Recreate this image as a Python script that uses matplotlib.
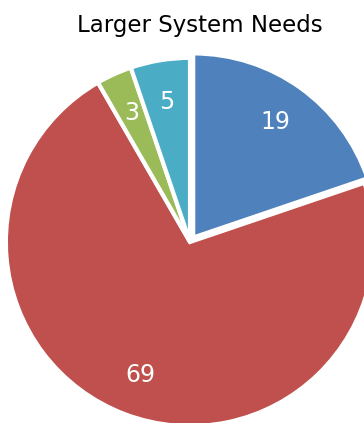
import matplotlib
matplotlib.use("Agg")
from matplotlib import pyplot as plt

# Wedge values, clockwise from 12 o'clock.
categories = ["A", "B", "C", "D"]
values = [19, 69, 3, 5]
colors = ["#4F81BD", "#C0504D", "#9BBB59", "#4BACC6"]
explode = [0.03, 0, 0, 0]

fig = plt.figure(figsize=(3.64, 4.23), dpi=100)
ax = fig.add_axes([0, 0, 1, 1])

wedges, texts, autotexts = ax.pie(
    values,
    colors=colors,
    explode=explode,
    startangle=90,
    counterclock=False,
    radius=1.012,
    autopct=lambda p: f"{round(p * sum(values) / 100):d}",
    pctdistance=0.77,
    wedgeprops=dict(edgecolor="white", linewidth=3),
    textprops=dict(color="white", fontsize=17),
)

# Pie is cropped by the figure edges on the right and bottom.
ax.set_xlim(-1.044, 0.956)
ax.set_ylim(-0.995, 1.33)
ax.set_aspect("equal")
ax.axis("off")

fig.text(0.55, 0.94, "Larger System Needs", ha="center", va="center", fontsize=16.5)

fig.savefig("out.png", dpi=100)
